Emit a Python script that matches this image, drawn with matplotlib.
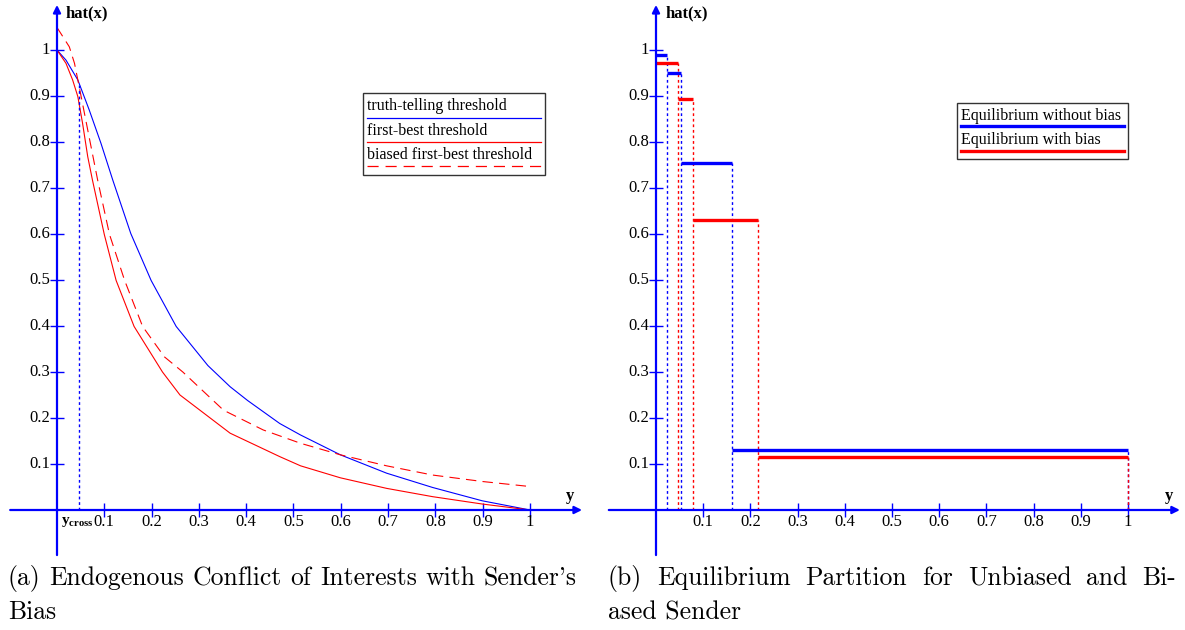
import numpy as np
import matplotlib
matplotlib.use('Agg')
import matplotlib.pyplot as plt
from matplotlib.lines import Line2D
from matplotlib.patches import Rectangle
from matplotlib.transforms import Affine2D

plt.rcParams['font.family'] = 'Liberation Serif'
plt.rcParams['mathtext.fontset'] = 'custom'
plt.rcParams['mathtext.rm'] = 'Liberation Serif:bold'
plt.rcParams['mathtext.it'] = 'Liberation Serif:bold'
plt.rcParams['lines.scale_dashes'] = False

BLUE = '#0000ff'
RED = '#ff0000'

# --- panel (a): thresholds ---
truth_x = [0, 0.019, 0.044, 0.068, 0.093, 0.118, 0.156, 0.199, 0.252, 0.319,
           0.366, 0.403, 0.471, 0.515, 0.599, 0.697, 0.794, 0.899, 1.0]
truth_y = [1, 0.978, 0.935, 0.87, 0.797, 0.717, 0.601, 0.499, 0.399, 0.314,
           0.268, 0.238, 0.188, 0.163, 0.12, 0.08, 0.049, 0.02, 0]

first_x = [0, 0.019, 0.033, 0.044, 0.054, 0.065, 0.075, 0.1, 0.125, 0.163,
           0.223, 0.26, 0.366, 0.471, 0.515, 0.599, 0.697, 0.794, 0.899, 1.0]
first_y = [1, 0.971, 0.935, 0.899, 0.841, 0.768, 0.717, 0.599, 0.499, 0.399,
           0.3, 0.25, 0.167, 0.116, 0.096, 0.07, 0.047, 0.029, 0.013, 0]

biased_x = [0, 0.026, 0.037, 0.051, 0.065, 0.086, 0.111, 0.143, 0.181, 0.227,
            0.266, 0.326, 0.352, 0.436, 0.515, 0.599, 0.697, 0.794, 0.899, 1.0]
biased_y = [1.049, 1.007, 0.971, 0.899, 0.826, 0.717, 0.599, 0.499, 0.399, 0.333,
            0.3, 0.242, 0.217, 0.174, 0.145, 0.12, 0.096, 0.076, 0.062, 0.051]

y_cross = 0.046
y_cross_level = 0.928

# --- panel (b): equilibrium partitions ---
nobias_bounds = [0, 0.023, 0.053, 0.161, 1.0]
nobias_levels = [0.989, 0.951, 0.755, 0.13]
bias_bounds = [0, 0.046, 0.079, 0.216, 1.0]
bias_levels = [0.972, 0.893, 0.631, 0.115]

ticks = [0.1, 0.2, 0.3, 0.4, 0.5, 0.6, 0.7, 0.8, 0.9, 1.0]
tick_labels = ['0.1', '0.2', '0.3', '0.4', '0.5', '0.6', '0.7', '0.8', '0.9', '1']

W, H = 1185, 630
fig = plt.figure(figsize=(W / 100, H / 100), dpi=100)
# figure pixel coords, origin top-left
px = Affine2D().scale(1 / W, -1 / H).translate(0, 1) + fig.transFigure

DOTS = (0, (2, 2))


def make_axes(x0, x1, ox, sx, oy=510, sy=460, top=0, bottom=560):
    ax = fig.add_axes([x0 / W, 1 - bottom / H, (x1 - x0) / W, (bottom - top) / H])
    ax.set_xlim((x0 - ox) / sx, (x1 - ox) / sx)
    ax.set_ylim((oy - bottom) / sy, (oy - top) / sy)
    ax.axis('off')
    return ax


def draw_frame(ax, xmin, xmax, ymin, ymax):
    arrow = dict(arrowstyle='-|>', color=BLUE, lw=1.6, mutation_scale=11,
                 shrinkA=0, shrinkB=0)
    ax.annotate('', xy=(xmax, 0), xytext=(xmin, 0), arrowprops=arrow)
    ax.annotate('', xy=(0, ymax), xytext=(0, ymin), arrowprops=arrow)
    ax.plot(ticks, np.zeros(len(ticks)), ls='none', marker='|', ms=10, mew=1, color=BLUE)
    ax.plot(np.zeros(len(ticks)), ticks, ls='none', marker='_', ms=10, mew=1, color=BLUE)
    for t, lab in zip(ticks, tick_labels):
        ax.annotate(lab, (t, 0), xytext=(0, -12), textcoords='offset pixels',
                    ha='center', va='center', fontsize=12)
        ax.annotate(lab, (0, t), xytext=(-7, 0), textcoords='offset pixels',
                    ha='right', va='center', fontsize=12)


def legend_box(x0, y0, x1, y1, entries, lw):
    fig.add_artist(Rectangle((x0, y0), x1 - x0, y1 - y0, transform=px,
                             fill=False, ec='#333333', lw=1))
    for label, ty, ly, color, ls in entries:
        fig.text(x0 + 4, ty, label, transform=px, fontsize=11.5, va='center')
        fig.add_artist(Line2D([x0 + 4, x1 - 4], [ly, ly], transform=px,
                              color=color, lw=lw, ls=ls))


# ---------- panel (a) ----------
ax1 = make_axes(0, 590, 57, 473)
draw_frame(ax1, -0.099, 1.11, -0.098, 1.098)
ax1.plot(truth_x, truth_y, color=BLUE, lw=0.8)
ax1.plot(first_x, first_y, color=RED, lw=0.8)
ax1.plot(biased_x, biased_y, color=RED, lw=0.8, dashes=(7.5, 4.5))
ax1.plot([y_cross, y_cross], [0, y_cross_level], color=BLUE, lw=1.0, ls=DOTS)
ax1.annotate(r'$\mathrm{y}_{\mathrm{cross}}$', (y_cross, 0), xytext=(-1, -12),
             textcoords='offset pixels', ha='center', va='center', fontsize=11)
fig.text(66, 13, 'hat(x)', transform=px, fontsize=12, fontweight='bold', va='center')
fig.text(570, 496, 'y', transform=px, fontsize=12, fontweight='bold', va='center', ha='center')

legend_box(363, 93, 545, 175,
           [('truth-telling threshold', 106, 118, BLUE, '-'),
            ('first-best threshold', 131, 142, RED, '-'),
            ('biased first-best threshold', 155, 166, RED, (0, (8, 5)))], 0.9)

# ---------- panel (b) ----------
ax2 = make_axes(600, 1185, 656, 472)
draw_frame(ax2, -0.1, 1.11, -0.098, 1.098)
ax2.vlines(nobias_bounds[1:], 0, nobias_levels, colors=BLUE, lw=1.0, linestyles=[DOTS])
ax2.vlines(bias_bounds[1:], 0, bias_levels, colors=RED, lw=1.0, linestyles=[DOTS])
ax2.hlines(nobias_levels, nobias_bounds[:-1], nobias_bounds[1:], colors=BLUE, lw=2.4)
ax2.hlines(bias_levels, bias_bounds[:-1], bias_bounds[1:], colors=RED, lw=2.4)
fig.text(666, 13, 'hat(x)', transform=px, fontsize=12, fontweight='bold', va='center')
fig.text(1169, 496, 'y', transform=px, fontsize=12, fontweight='bold', va='center', ha='center')

legend_box(957, 103, 1128, 159,
           [('Equilibrium without bias', 116, 126, BLUE, '-'),
            ('Equilibrium with bias', 140, 151, RED, '-')], 2.4)

# ---------- captions (justified, like the LaTeX subcaptions) ----------
renderer = fig.canvas.get_renderer()


def word_widths(words, size):
    out = []
    for w in words:
        t = fig.text(0, 0, w, fontsize=size, family='cmr10')
        out.append(t.get_window_extent(renderer).width)
        t.remove()
    return out


def justified(line, x0, x1, y, size):
    words = line.split(' ')
    widths = word_widths(words, size)
    gap = ((x1 - x0) - sum(widths)) / (len(words) - 1)
    x = x0
    for w, wd in zip(words, widths):
        fig.text(x, y, w, transform=px, fontsize=size, family='cmr10', va='baseline')
        x += wd + gap


cap_a = "(a) Endogenous Conflict of Interests with Sender's"
cap_b = '(b) Equilibrium Partition for Unbiased and Bi-'
# pick the size so line (a) fills its width with ordinary word spaces
ref = 10
wa = cap_a.split(' ')
natural = sum(word_widths(wa, ref)) + (len(wa) - 1) * 0.333 * ref * 100 / 72
cap_size = ref * (577 - 8) / natural

justified(cap_a, 8, 577, 585, cap_size)
fig.text(8, 619, 'Bias', transform=px, fontsize=cap_size, family='cmr10', va='baseline')
justified(cap_b, 608, 1176, 585, cap_size)
fig.text(608, 619, 'ased Sender', transform=px, fontsize=cap_size, family='cmr10',
         va='baseline')

fig.savefig('out.png', dpi=100)
